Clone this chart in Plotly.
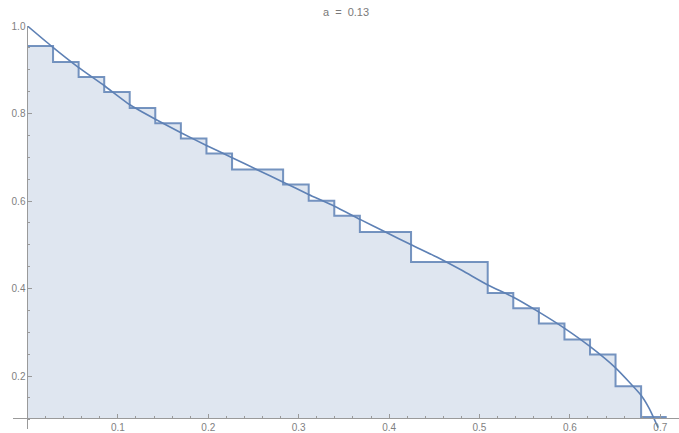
import plotly.graph_objects as go

# ---------------- data ----------------
# smooth curve
curve_x = [0.0, 0.0265, 0.0560, 0.0847, 0.1132, 0.1415, 0.1698, 0.1980, 0.2264,
           0.2546, 0.2830, 0.3110, 0.3396, 0.3679, 0.3960, 0.4245, 0.4527, 0.4810,
           0.5093, 0.5376, 0.5659, 0.5942, 0.6225, 0.6508, 0.6791, 0.6880, 0.6976]
curve_y = [1.000, 0.954, 0.906, 0.864, 0.820, 0.787, 0.756, 0.727, 0.699,
           0.671, 0.643, 0.615, 0.588, 0.558, 0.529, 0.500, 0.472, 0.441,
           0.408, 0.380, 0.346, 0.309, 0.267, 0.218, 0.155, 0.125, 0.082]

# step function (left edge of each step, value of the step) + right end
step_x = [0.0, 0.0283, 0.0566, 0.0849, 0.1131, 0.1414, 0.1697, 0.1980, 0.2263,
          0.2828, 0.3111, 0.3394, 0.3677, 0.4243, 0.5091, 0.5374, 0.5657, 0.5940,
          0.6223, 0.6505, 0.6788]
step_y = [0.9543, 0.9177, 0.8834, 0.8491, 0.8126, 0.7776, 0.7426, 0.7083, 0.6718,
          0.6375, 0.6005, 0.5662, 0.5291, 0.4606, 0.3897, 0.3547, 0.3198, 0.2832,
          0.2489, 0.1765, 0.1063]
step_end_x = 0.7071

x_ticks = [0.1, 0.2, 0.3, 0.4, 0.5, 0.6, 0.7]
y_ticks = [0.2, 0.4, 0.6, 0.8, 1.0]
title_text = "a\u00a0\u00a0=\u00a0\u00a00.13"

# ---------------- layout constants ----------------
AXIS_Y = 0.1033          # where the horizontal axis crosses
X_RANGE = [-0.0160, 0.7207]
Y_RANGE = [0.0789, 1.0]
BLUE = "rgb(94,129,181)"
GRAY = "#9a9a9a"
LABEL = "#7f7f7f"

sx = step_x + [step_end_x]
sy = step_y + [step_y[-1]]

fig = go.Figure()
# baseline for the filling
fig.add_trace(go.Scatter(x=[sx[0], sx[-1]], y=[AXIS_Y, AXIS_Y], mode="lines",
                         line=dict(width=0, color="rgba(0,0,0,0)"),
                         hoverinfo="skip", showlegend=False))
fig.add_trace(go.Scatter(x=sx, y=sy, mode="lines", line_shape="hv",
                         line=dict(color="rgba(94,129,181,0.85)", width=2),
                         fill="tonexty", fillcolor="rgba(94,129,181,0.2)",
                         showlegend=False))
fig.add_trace(go.Scatter(x=curve_x, y=curve_y, mode="lines",
                         line=dict(color=BLUE, width=1.6, shape="spline", smoothing=0.5),
                         showlegend=False))

px_pos = (0 - X_RANGE[0]) / (X_RANGE[1] - X_RANGE[0])
py_pos = (AXIS_Y - Y_RANGE[0]) / (Y_RANGE[1] - Y_RANGE[0])

fig.update_layout(
    width=679, height=433,
    margin=dict(l=13, r=0, t=26, b=4, autoexpand=False),
    paper_bgcolor="white", plot_bgcolor="white",
    font=dict(family="Liberation Sans, Arial, sans-serif", size=10, color=LABEL),
    title=dict(text=title_text, x=0.5, xref="paper", xanchor="center",
               y=1 - 12 / 433, yref="container", yanchor="middle",
               font=dict(size=11, color="#7a7a7a")),
    xaxis=dict(range=X_RANGE, anchor="free", position=py_pos, automargin=False,
               showline=True, linecolor=GRAY, linewidth=1,
               ticks="inside", ticklen=4, tickcolor=GRAY, tickwidth=1,
               tickmode="array", tickvals=x_ticks, tickformat=".1f",
               showgrid=False, zeroline=False,
               minor=dict(ticks="inside", ticklen=2, tickcolor=GRAY,
                          tick0=0, dtick=0.02, showgrid=False)),
    yaxis=dict(range=Y_RANGE, anchor="free", position=px_pos, automargin=False,
               showline=True, linecolor=GRAY, linewidth=1,
               ticks="inside", ticklen=4, tickcolor=GRAY, tickwidth=1,
               tickmode="array", tickvals=y_ticks, tickformat=".1f",
               showgrid=False, zeroline=False,
               minor=dict(ticks="inside", ticklen=2, tickcolor=GRAY,
                          tick0=0, dtick=0.05, showgrid=False)),
)

fig.write_html("out.html",
               config={"displayModeBar": False},
               post_script="document.body.style.margin='0';document.body.style.overflow='hidden';")
